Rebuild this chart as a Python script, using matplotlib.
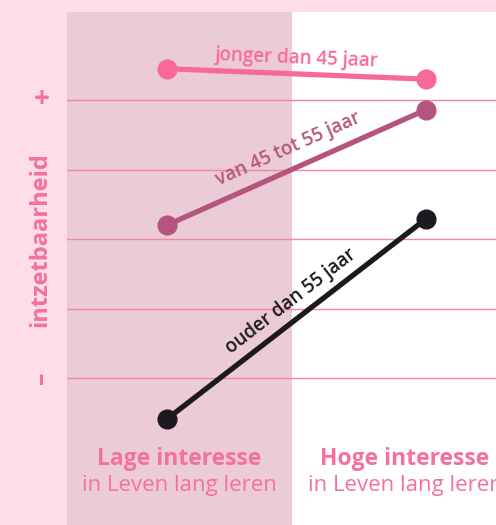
import numpy as np
import matplotlib.pyplot as plt

categories = ["Lage interesse", "Hoge interesse"]
subtitle = "in Leven lang leren"
groups = ["jonger dan 45 jaar", "van 45 tot 55 jaar", "ouder dan 55 jaar"]
jonger = [4.45, 4.30]
midden = [2.20, 3.86]
ouder = [-0.59, 2.29]
colors = ["#f8699b", "#b5557d", "#1c1a1f"]

pink = "#f4719f"
bg = "#fddde6"

plt.rcParams['font.family'] = ['Open Sans', 'DejaVu Sans']

fig = plt.figure(figsize=(4.96, 5.25), dpi=100, facecolor=bg)
W, H = 496, 525
ax = fig.add_axes([67 / W, 0, 1 - 67 / W, (525 - 12) / H])
ax.set_facecolor("white")

# pixel -> data mapping: x=0 at px 167, x=1 at px 426; y=0 at px 378, 69.5 px per unit
x0, xs = 167, 259
ax.set_xlim((67 - x0) / xs, (496 - x0) / xs)
ax.set_ylim((378 - 525) / 69.5, (378 - 12) / 69.5)
ax.axvspan((67 - x0) / xs, (292 - x0) / xs, color="#eacbd6", zorder=0, lw=0)

for g in range(5):
    ax.axhline(g, color="#f283aa", lw=1, zorder=1)

xpos = [0, 1]
for vals, col in zip([jonger, midden, ouder], colors):
    ax.plot(xpos, vals, color=col, lw=3.8, marker="o", ms=13.5, zorder=3,
            solid_capstyle="round")

for ax_s in ax.spines.values():
    ax_s.set_visible(False)
ax.set_xticks([])
ax.set_yticks([])

fig.canvas.draw()


def angle(vals):
    p = ax.transData.transform([(0, vals[0]), (1, vals[1])])
    return np.degrees(np.arctan2(p[1][1] - p[0][1], p[1][0] - p[0][0]))


offsets = [0.22, 0.31, 0.31]
label_x = [0.5, 0.47, 0.48]
for vals, col, name, lx, off in zip([jonger, midden, ouder], colors, groups, label_x, offsets):
    ly = vals[0] + (vals[1] - vals[0]) * lx
    ax.text(lx, ly + off, name, color=col, fontsize=13.5, fontweight="semibold",
            rotation=angle(vals), rotation_mode="anchor", ha="center", va="center",
            zorder=4)

lab_x = [(179 - x0) / xs, (405 - x0) / xs]
for cx, cat in zip(lab_x, categories):
    ax.text(cx, (378 - 459) / 69.5, cat, color=pink, fontsize=16.5, fontweight="bold",
            ha="center", va="center", clip_on=False)
    ax.text(cx, (378 - 486) / 69.5, subtitle, color=pink, fontsize=16,
            ha="center", va="center", clip_on=False)

fig.text(42 / W, 1 - 100 / H, "+", color=pink, fontsize=20, fontweight="bold",
         ha="center", va="center")
fig.text(42 / W, 1 - 378 / H, "–", color=pink, fontsize=18, fontweight="bold",
         ha="center", va="center", rotation=90)
fig.text(40 / W, 1 - 240 / H, "intzetbaarheid", color=pink, fontsize=17,
         fontweight="bold", ha="center", va="center", rotation=90)

fig.savefig("out.png", dpi=100, facecolor=bg)
